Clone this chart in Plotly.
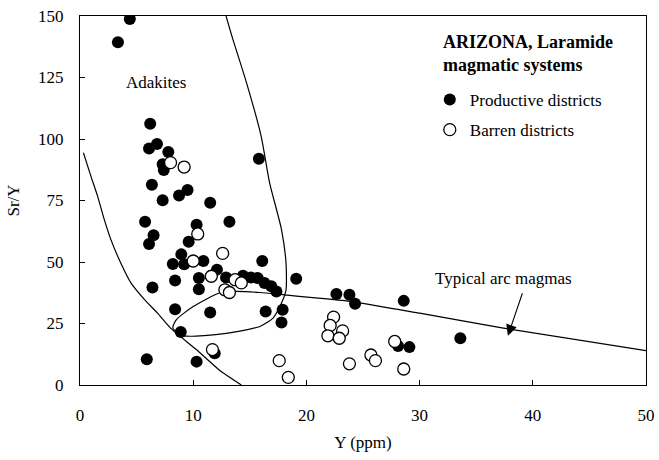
import plotly.graph_objects as go

# Productive districts (filled)
prod_y_ppm = [4.4, 3.35, 6.2, 6.1, 6.8, 7.8, 7.3, 7.4, 6.35, 7.3, 8.75, 9.5, 11.5, 13.2, 5.75,
              6.5, 6.1, 10.3, 9.6, 8.95, 15.8, 8.2, 9.2, 10.9, 16.1, 8.4, 10.5, 10.5, 12.1,
              12.9, 14.4, 15.1, 15.7, 16.3, 16.9, 17.35, 19.1, 8.4, 11.5, 16.4, 17.9, 17.8,
              8.9, 11.9, 10.3, 5.9, 6.4, 22.65, 23.8, 24.3, 28.6, 28.1, 29.1, 33.6]
prod_sr_y = [148.8, 139.3, 106.2, 96.1, 98.0, 94.7, 89.7, 87.4, 81.4, 75.1, 77.0, 79.3, 74.1, 66.4, 66.4,
             60.9, 57.3, 65.1, 58.2, 53.1, 92.0, 49.2, 49.1, 50.4, 50.4, 42.5, 43.5, 38.9, 46.9,
             43.7, 44.4, 43.7, 43.5, 41.5, 40.1, 38.0, 43.2, 30.8, 29.5, 29.9, 30.6, 25.4,
             21.5, 12.9, 9.5, 10.5, 39.6, 37.0, 36.7, 33.0, 34.2, 15.9, 15.4, 19.0]

# Barren districts (open)
barren_y_ppm = [8.0, 9.2, 10.4, 12.6, 10.0, 11.6, 13.7, 14.25, 12.8, 13.2, 11.7, 17.6, 18.4,
                22.4, 22.1, 23.2, 21.9, 22.9, 27.8, 25.7, 26.1, 23.8, 28.6]
barren_sr_y = [90.4, 88.6, 61.4, 53.5, 50.4, 44.2, 42.8, 41.5, 38.7, 37.6, 14.4, 9.9, 3.1,
               27.6, 24.2, 22.0, 20.0, 19.0, 17.7, 12.2, 9.9, 8.6, 6.5]

# Field boundaries
adakite_left_x = [0.3, 0.96, 1.55, 2.14, 2.73, 3.6, 4.5, 5.7, 6.85, 8.0, 10.3, 12.3, 14.25]
adakite_left_y = [94.4, 84.9, 76.8, 67.3, 59.1, 49.6, 41.5, 34.7, 29.2, 23.1, 14.3, 6.1, 0.0]

boundary_x = [12.9, 13.5, 14.7, 16.0, 16.75, 17.8, 18.2, 18.2, 17.8, 17.05, 15.9, 12.9, 9.2, 8.2,
              8.5, 10.0, 12.3, 13.5, 15.9, 17.9, 20.3, 23.8, 30.0, 37.4, 50.0]
boundary_y = [150.0, 140.6, 123.0, 101.2, 82.2, 63.2, 49.6, 38.7, 33.3, 27.2, 23.8, 21.0, 20.0, 23.1,
              26.5, 31.9, 37.4, 38.0, 37.6, 36.7, 35.6, 34.0, 29.2, 23.1, 14.0]

x_ticks = [0, 10, 20, 30, 40, 50]
y_ticks = [0, 25, 50, 75, 100, 125, 150]

FONT = "Liberation Serif"

fig = go.Figure()
fig.add_trace(go.Scatter(x=adakite_left_x, y=adakite_left_y, mode="lines",
                         line=dict(color="black", width=1.2, shape="spline", smoothing=0.6),
                         showlegend=False, hoverinfo="skip"))
fig.add_trace(go.Scatter(x=boundary_x, y=boundary_y, mode="lines",
                         line=dict(color="black", width=1.2, shape="spline", smoothing=0.6),
                         showlegend=False, hoverinfo="skip"))
fig.add_trace(go.Scatter(x=prod_y_ppm, y=prod_sr_y, mode="markers", name="Productive districts",
                         legendgroup="p",
                         marker=dict(size=12, color="black", line=dict(width=0))))
fig.add_trace(go.Scatter(x=barren_y_ppm, y=barren_sr_y, mode="markers", name="Barren districts",
                         legendgroup="b",
                         marker=dict(size=12, color="white", line=dict(width=1.3, color="black"))))

fig.add_annotation(x=6.7, y=123, text="Adakites", showarrow=False, xref="x", yref="y",
                   font=dict(family=FONT, size=17, color="black"))
fig.add_annotation(x=37.4, y=43.2, text="Typical arc magmas", showarrow=False, xref="x", yref="y",
                   font=dict(family=FONT, size=17, color="black"))
fig.add_annotation(x=37.8, y=20, text="", showarrow=True, xref="x", yref="y",
                   ax=15, ay=-44, arrowhead=2, arrowsize=2, arrowwidth=1.1, arrowcolor="black")
fig.add_annotation(x=(441 - 80) / 566, y=1 - (30 - 16) / 369, xref="paper", yref="paper",
                   xanchor="left", yanchor="top", align="left", showarrow=False,
                   text="<b>ARIZONA, Laramide<br>magmatic systems</b>",
                   font=dict(family=FONT, size=18, color="black"))

axis_common = dict(showline=True, linecolor="black", linewidth=1.2, mirror=True,
                   ticks="inside", ticklen=5, tickcolor="black", showgrid=False, zeroline=False,
                   automargin=False,
                   tickfont=dict(family=FONT, size=17, color="black"))
fig.update_xaxes(range=[0, 50], tickvals=x_ticks, ticklabelstandoff=14,
                 title=dict(text="Y (ppm)", font=dict(family=FONT, size=17), standoff=12),
                 **axis_common)
fig.update_yaxes(range=[0, 150], tickvals=y_ticks, ticklabelstandoff=12,
                 title=dict(text="Sr/Y", font=dict(family=FONT, size=17), standoff=14),
                 **axis_common)

fig.update_layout(
    width=659, height=460,
    margin=dict(l=80, r=13, t=16, b=75, autoexpand=False),
    plot_bgcolor="white", paper_bgcolor="white",
    font=dict(family=FONT, size=17, color="black"),
    legend=dict(x=0.618, y=1 - (82 - 16) / 369, xanchor="left", yanchor="top",
                bgcolor="rgba(0,0,0,0)", traceorder="grouped", tracegroupgap=5,
                font=dict(family=FONT, size=17), itemwidth=30),
)

fig.write_html("out.html", post_script="document.body.style.margin='0';",
               config={"displayModeBar": False})
